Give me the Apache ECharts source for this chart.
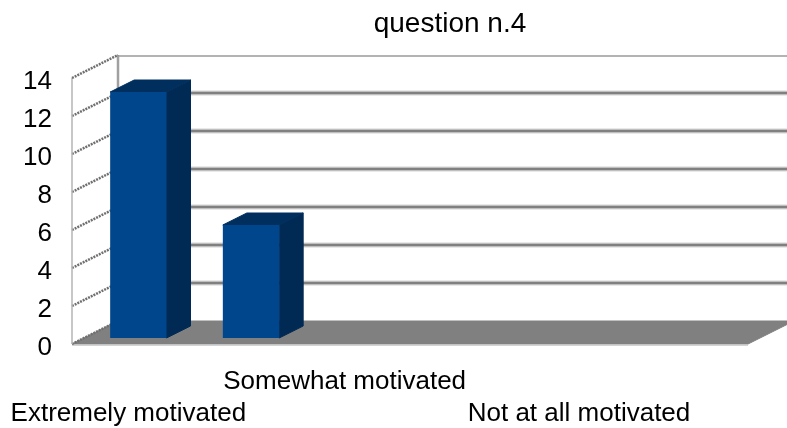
<!DOCTYPE html>
<html>
<head>
<meta charset="utf-8">
<style>
  html, body { margin: 0; padding: 0; background: #fff; }
  #chart { width: 787px; height: 428px; }
</style>
<script src="https://cdn.jsdelivr.net/npm/echarts@6/dist/echarts.min.js"></script>
</head>
<body>
<div id="chart"></div>
<script>
// only every second category label is printed in the picture
var categories = ['Extremely motivated', '', 'Somewhat motivated', '', 'Not at all motivated', ''];
var values = [13, 6, 0, 0, 0, 0];
var yTicks = [0, 2, 4, 6, 8, 10, 12, 14];

// wall depth and bar depth, in px
var wallDx = 46, wallDy = -23;
var barDx = 24, barDy = -12;

function line(x1, y1, x2, y2, color, width) {
  return {
    type: 'line',
    shape: { x1: x1, y1: y1, x2: x2, y2: y2 },
    style: { stroke: color, lineWidth: width }
  };
}

function poly(points, color) {
  return {
    type: 'polygon',
    shape: { points: points },
    style: { fill: color, stroke: color, lineWidth: 1, lineJoin: 'round' }
  };
}

// back wall: gridlines, slanted ticks on the side wall, floor
function renderWall(params, api) {
  var tick = api.value(0);
  var cs = params.coordSys;
  var y = api.coord([0, tick])[1];
  var left = cs.x, right = cs.x + cs.width;
  var bottom = cs.y + cs.height;
  var backY = y + wallDy;
  var backX = left + wallDx;
  var kids = [];
  if (tick === 0) {
    kids.push(poly([[left, y], [right, y], [right + wallDx, backY], [backX, backY]], '#808080'));
    kids.push(line(left, y + 1, right, y + 1, '#c4c4c4', 1.5));
  } else if (tick === yTicks[yTicks.length - 1]) {
    kids.push(line(backX, backY + 1, right + wallDx, backY + 1, '#9a9a9a', 1.5));
    kids.push(line(backX, backY, backX, bottom + wallDy, '#a0a0a0', 2.5));
    kids.push(line(left, y, left, bottom, '#b4b4b4', 1.5));
  } else {
    kids.push(line(backX, backY, right + wallDx, backY, '#d4d4d4', 5));
    kids.push(line(backX, backY, right + wallDx, backY, '#808080', 2.5));
  }
  kids.push({
    type: 'line',
    shape: { x1: left, y1: y, x2: backX, y2: backY },
    style: { stroke: '#707070', lineWidth: 2.5, lineDash: [2, 1] }
  });
  return { type: 'group', children: kids };
}

function renderBar(params, api) {
  var v = api.value(1);
  if (!v) return null;
  var band = api.size([1, 0])[0];
  var w = band / 2;
  var top = api.coord([api.value(0), v]);
  var base = api.coord([api.value(0), 0]);
  var x = top[0] - w / 2 + 10;
  var yT = top[1] - 5;
  var yB = base[1] - 6;
  return {
    type: 'group',
    children: [
      poly([[x + w, yT], [x + w + barDx, yT + barDy], [x + w + barDx, yB + barDy], [x + w, yB]], '#002a54'),
      poly([[x, yT], [x + barDx, yT + barDy], [x + w + barDx, yT + barDy], [x + w, yT]], '#002f5e'),
      { type: 'rect', shape: { x: x, y: yT, width: w, height: yB - yT }, style: { fill: '#00468c' } }
    ]
  };
}

var chart = echarts.init(document.getElementById('chart'), null, { renderer: 'canvas' });
chart.setOption({
  animation: false,
  backgroundColor: '#ffffff',
  textStyle: { fontFamily: 'Liberation Sans' },
  title: {
    text: 'question n.4',
    left: 445,
    top: 5,
    textAlign: 'center',
    textStyle: { fontFamily: 'Liberation Sans', fontSize: 28, fontWeight: 'normal', color: '#000' }
  },
  grid: { left: 72, top: 78, width: 676, height: 266, outerBoundsMode: 'none' },
  xAxis: {
    type: 'category',
    data: categories,
    axisLine: { show: false },
    axisTick: { show: false },
    axisLabel: {
      interval: 0,
      margin: 22,
      color: '#000',
      fontSize: 26,
      fontFamily: 'Liberation Sans',
      lineHeight: 32,
      // staggered rows as in the picture
      formatter: function (text, i) {
        return i === 2 ? '{mid|' + text + '}' : '\n' + text;
      },
      rich: {
        mid: { fontSize: 26, lineHeight: 32, padding: [0, 18, 0, 0], color: '#000' }
      }
    }
  },
  yAxis: {
    type: 'value',
    min: 0,
    max: 14,
    interval: 2,
    axisLine: { show: false },
    axisTick: { show: false },
    splitLine: { show: false },
    axisLabel: {
      margin: 20,
      color: '#000',
      fontSize: 26,
      fontFamily: 'Liberation Sans',
      formatter: '{n|{value}}',
      // numbers sit a little under the tick ends
      rich: {
        n: { fontSize: 26, color: '#000', padding: [8, 0, 0, 0] }
      }
    }
  },
  series: [
    {
      type: 'custom',
      renderItem: renderWall,
      clip: false,
      silent: true,
      data: yTicks.map(function (t) { return [t]; }),
      encode: { y: 0 },
      z: 1
    },
    {
      type: 'custom',
      renderItem: renderBar,
      clip: false,
      data: values.map(function (v, i) { return [i, v]; }),
      encode: { x: 0, y: 1 },
      z: 2
    }
  ]
});
</script>
</body>
</html>
